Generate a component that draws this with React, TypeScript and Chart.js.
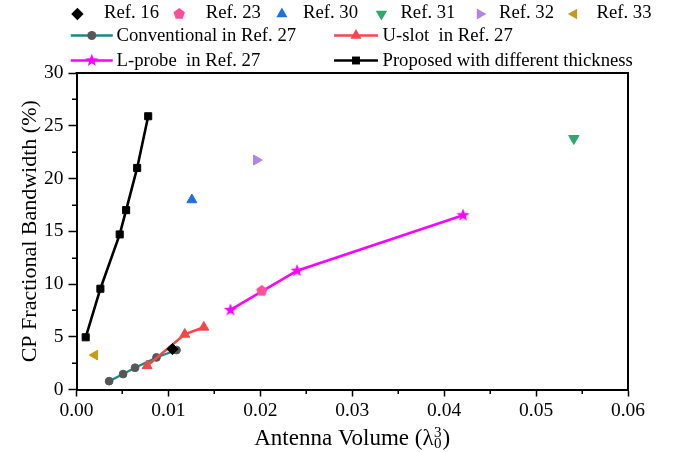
import React, { useEffect, useRef } from 'react';
import { Chart, registerables } from 'chart.js';

Chart.register(...registerables);

const FONT = '"Liberation Serif", "Times New Roman", serif';

// ---------- data ----------
const proposedX = [0.001, 0.0026, 0.0047, 0.0054, 0.0066, 0.0078];
const proposedY = [4.95, 9.55, 14.7, 17.0, 21.0, 25.9];

const conventionalX = [0.00355, 0.00507, 0.00637, 0.0087, 0.01088];
const conventionalY = [0.79, 1.46, 2.06, 3.04, 3.74];

const uslotX = [0.00768, 0.01178, 0.01385];
const uslotY = [2.25, 5.23, 5.9];

const lprobeX = [0.01675, 0.024, 0.04205];
const lprobeY = [7.54, 11.26, 16.52];

const refNames = ['Ref. 16', 'Ref. 23', 'Ref. 30', 'Ref. 31', 'Ref. 32', 'Ref. 33'];
const refX = [0.01044, 0.02016, 0.01255, 0.05411, 0.01958, 0.00199];
const refY = [3.83, 9.35, 17.98, 23.79, 21.75, 3.26];

const lineNames = [
  'Conventional in Ref. 27',
  'U-slot  in Ref. 27',
  'L-probe  in Ref. 27',
  'Proposed with different thickness',
];

const xTickValues = [0, 0.01, 0.02, 0.03, 0.04, 0.05, 0.06];
const xMinorTicks = [0.005, 0.015, 0.025, 0.035, 0.045, 0.055];
const yMinorTicks = [2.5, 7.5, 12.5, 17.5, 22.5, 27.5];

// ---------- styles ----------
type Mk = 'circle' | 'rect' | 'rectRot' | 'triUp' | 'triDown' | 'triRight' | 'triLeft' | 'pentagon' | 'star';

const refColors = ['#000000', '#ff4f9b', '#1f6fe6', '#2fa86c', '#b483e4', '#c99a18'];
const refMarkers: Mk[] = ['rectRot', 'pentagon', 'triUp', 'triDown', 'triRight', 'triLeft'];
const refRadius = [5.6, 5.4, 5.8, 6.0, 5.8, 5.6];

const TEAL = '#138b89';
const GRAY = '#575757';
const RED = '#f14848';
const MAGENTA = '#ff00ff';

function pathMarker(ctx: CanvasRenderingContext2D, m: Mk, x: number, y: number, r: number) {
  ctx.beginPath();
  const poly = (n: number, startDeg: number) => {
    for (let i = 0; i < n; i++) {
      const a = ((startDeg + (360 / n) * i) * Math.PI) / 180;
      const px = x + Math.sin(a) * r;
      const py = y - Math.cos(a) * r;
      if (i === 0) ctx.moveTo(px, py);
      else ctx.lineTo(px, py);
    }
    ctx.closePath();
  };
  switch (m) {
    case 'circle':
      ctx.arc(x, y, r, 0, Math.PI * 2);
      break;
    case 'rect': {
      const s = r * Math.SQRT1_2;
      ctx.rect(x - s, y - s, 2 * s, 2 * s);
      break;
    }
    case 'rectRot':
      poly(4, 0);
      break;
    case 'triUp':
      poly(3, 0);
      break;
    case 'triDown':
      poly(3, 180);
      break;
    case 'triRight':
      poly(3, 90);
      break;
    case 'triLeft':
      poly(3, 270);
      break;
    case 'pentagon':
      poly(5, 0);
      break;
    case 'star': {
      const inner = r * 0.42;
      for (let i = 0; i < 10; i++) {
        const rr = i % 2 === 0 ? r : inner;
        const a = (i * 36 * Math.PI) / 180;
        const px = x + Math.sin(a) * rr;
        const py = y - Math.cos(a) * rr;
        if (i === 0) ctx.moveTo(px, py);
        else ctx.lineTo(px, py);
      }
      ctx.closePath();
      break;
    }
  }
}

function markerImage(m: Mk, r: number, color: string) {
  const size = Math.ceil(r * 2 + 4);
  const c = document.createElement('canvas');
  c.width = size;
  c.height = size;
  const g = c.getContext('2d')!;
  pathMarker(g, m, size / 2, size / 2, r);
  g.fillStyle = color;
  g.fill();
  return c;
}

function builtin(m: Mk): { style: string; rot: number } {
  switch (m) {
    case 'triUp':
      return { style: 'triangle', rot: 0 };
    case 'triDown':
      return { style: 'triangle', rot: 180 };
    case 'triRight':
      return { style: 'triangle', rot: 90 };
    case 'triLeft':
      return { style: 'triangle', rot: 270 };
    default:
      return { style: m, rot: 0 };
  }
}

const pts = (xs: number[], ys: number[]) => xs.map((x, i) => ({ x, y: ys[i] }));

const legendPlugin = {
  id: 'customLegend',
  afterDraw(chart: any) {
    const ctx: CanvasRenderingContext2D = chart.ctx;
    ctx.save();
    ctx.fillStyle = '#000';
    ctx.font = `18.7px ${FONT}`;
    ctx.textBaseline = 'middle';
    ctx.textAlign = 'left';
    // row 1: single markers
    const mX = [77.4, 179.2, 281.9, 381.4, 480, 574];
    const tX = [104, 205.8, 303, 400.4, 499, 596.5];
    refNames.forEach((name, i) => {
      pathMarker(ctx, refMarkers[i], mX[i], 14, refRadius[i] + 0.6);
      ctx.fillStyle = refColors[i];
      ctx.fill();
      ctx.fillStyle = '#000';
      ctx.fillText(name, tX[i], 13.5);
    });
    // rows 2-3: line + marker
    const items = [
      { col: 0, row: 0, color: TEAL, mcolor: GRAY, mk: 'circle' as Mk, r: 4.5, lw: 2.4 },
      { col: 1, row: 0, color: RED, mcolor: RED, mk: 'triUp' as Mk, r: 6.4, lw: 2.6 },
      { col: 0, row: 1, color: MAGENTA, mcolor: MAGENTA, mk: 'star' as Mk, r: 6.8, lw: 2.6 },
      { col: 1, row: 1, color: '#000', mcolor: '#000', mk: 'rect' as Mk, r: 5.6, lw: 2.6 },
    ];
    const colX = [
      [70.8, 112.8, 116.5],
      [334, 378, 382.5],
    ];
    const rowY = [35.5, 60.5];
    items.forEach((it, i) => {
      const [x1, x2, tx] = colX[it.col];
      const y = rowY[it.row];
      ctx.beginPath();
      ctx.moveTo(x1, y);
      ctx.lineTo(x2, y);
      ctx.strokeStyle = it.color;
      ctx.lineWidth = it.lw;
      ctx.stroke();
      pathMarker(ctx, it.mk, (x1 + x2) / 2, y, it.r);
      ctx.fillStyle = it.mcolor;
      ctx.fill();
      ctx.fillStyle = '#000';
      ctx.fillText(lineNames[i], tx, y + 0.5);
    });
    ctx.restore();
  },
};

const framePlugin = {
  id: 'frameAndExtras',
  afterDraw(chart: any) {
    const ctx: CanvasRenderingContext2D = chart.ctx;
    const { left, right, top, bottom } = chart.chartArea;
    const xs = chart.scales.x;
    const ys = chart.scales.y;
    ctx.save();
    ctx.strokeStyle = '#000';
    ctx.lineWidth = 2;
    ctx.beginPath();
    ctx.moveTo(left - 1, top);
    ctx.lineTo(right, top);
    ctx.lineTo(right, bottom + 1);
    ctx.stroke();
    // minor ticks
    ctx.lineWidth = 1.5;
    ctx.beginPath();
    xMinorTicks.forEach((v) => {
      const px = Math.round(xs.getPixelForValue(v)) + 0.25;
      ctx.moveTo(px, bottom);
      ctx.lineTo(px, bottom + 4.5);
    });
    yMinorTicks.forEach((v) => {
      const py = Math.round(ys.getPixelForValue(v)) + 0.25;
      ctx.moveTo(left - 4.5, py);
      ctx.lineTo(left, py);
    });
    ctx.stroke();

    // x-axis title with stacked sub/superscript
    ctx.fillStyle = '#000';
    ctx.textBaseline = 'alphabetic';
    ctx.textAlign = 'left';
    const main = 'Antenna Volume (\u03bb';
    ctx.font = `23px ${FONT}`;
    const w1 = ctx.measureText(main).width;
    const w3 = ctx.measureText(')').width;
    ctx.font = `15px ${FONT}`;
    const ws = Math.max(ctx.measureText('0').width, ctx.measureText('3').width);
    const total = w1 + ws + 1.5 + w3;
    let x = (left + right) / 2 - total / 2;
    const base = bottom + 55.5;
    ctx.font = `23px ${FONT}`;
    ctx.fillText(main, x, base);
    x += w1 + 0.5;
    ctx.font = `15px ${FONT}`;
    ctx.fillText('3', x, base - 8.5);
    ctx.fillText('0', x, base + 3);
    x += ws + 1;
    ctx.font = `23px ${FONT}`;
    ctx.fillText(')', x, base);
    ctx.restore();
  },
};

export default function App() {
  const ref = useRef<HTMLCanvasElement | null>(null);

  useEffect(() => {
    if (!ref.current) return;
    const refDatasets = refNames.map((name, i) => {
      const m = refMarkers[i];
      const isImg = m === 'pentagon';
      const b = builtin(m);
      return {
        label: name,
        data: [{ x: refX[i], y: refY[i] }],
        showLine: false,
        pointStyle: isImg ? markerImage(m, refRadius[i] + 0.5, refColors[i]) : b.style,
        pointRotation: b.rot,
        pointRadius: refRadius[i],
        pointBackgroundColor: refColors[i],
        pointBorderColor: refColors[i],
        pointBorderWidth: 1,
      };
    });

    const lineDatasets = [
      {
        label: lineNames[3],
        data: pts(proposedX, proposedY),
        showLine: true,
        borderColor: '#000',
        borderWidth: 2.6,
        pointStyle: 'rect',
        pointRadius: 5,
        pointBackgroundColor: '#000',
        pointBorderColor: '#000',
        pointBorderWidth: 1,
      },
      {
        label: lineNames[1],
        data: pts(uslotX, uslotY),
        showLine: true,
        borderColor: RED,
        borderWidth: 2.6,
        pointStyle: 'triangle',
        pointRadius: 5.8,
        pointBackgroundColor: RED,
        pointBorderColor: RED,
        pointBorderWidth: 1,
      },
      {
        label: lineNames[0],
        data: pts(conventionalX, conventionalY),
        showLine: true,
        borderColor: TEAL,
        borderWidth: 2.2,
        pointStyle: 'circle',
        pointRadius: 3.9,
        pointBackgroundColor: GRAY,
        pointBorderColor: GRAY,
        pointBorderWidth: 1,
      },
      {
        label: lineNames[2],
        data: pts(lprobeX, lprobeY),
        showLine: true,
        borderColor: MAGENTA,
        borderWidth: 2.6,
        pointStyle: markerImage('star', 6.8, MAGENTA),
        pointRadius: 6,
        pointBackgroundColor: MAGENTA,
        pointBorderColor: MAGENTA,
        pointBorderWidth: 0,
      },
    ];

    const chart = new Chart(ref.current, {
      type: 'scatter',
      data: { datasets: [...refDatasets, ...lineDatasets] as any },
      options: {
        animation: false,
        responsive: false,
        devicePixelRatio: 1,
        events: [],
        layout: { padding: { left: 0, right: 65, top: 73, bottom: 0 } },
        plugins: {
          legend: { display: false },
          tooltip: { enabled: false },
        },
        scales: {
          x: {
            type: 'linear',
            position: 'bottom',
            min: xTickValues[0],
            max: xTickValues[xTickValues.length - 1],
            afterFit: (s: any) => {
              s.height = 62.5;
            },
            afterBuildTicks: (s: any) => {
              s.ticks = xTickValues.map((v) => ({ value: v }));
            },
            ticks: {
              callback: (v: any) => Number(v).toFixed(2),
              font: { family: FONT, size: 19.5 },
              color: '#000',
              padding: 3,
              maxRotation: 0,
              autoSkip: false,
            },
            grid: {
              drawOnChartArea: false,
              drawTicks: true,
              tickLength: 7,
              tickWidth: 1.5,
              tickColor: '#000',
            },
            border: { display: true, color: '#000', width: 2 },
            title: { display: false },
          },
          y: {
            type: 'linear',
            min: 0,
            max: 30,
            afterFit: (s: any) => {
              s.width = 76.5;
            },
            ticks: {
              stepSize: 5,
              font: { family: FONT, size: 19.5 },
              color: '#000',
              padding: 5,
            },
            grid: {
              drawOnChartArea: false,
              drawTicks: true,
              tickLength: 8,
              tickWidth: 1.5,
              tickColor: '#000',
            },
            border: { display: true, color: '#000', width: 2 },
            title: {
              display: true,
              text: 'CP Fractional Bandwidth (%)',
              font: { family: FONT, size: 22 },
              color: '#000',
              padding: { top: 17, bottom: 0 },
            },
          },
        },
      },
      plugins: [legendPlugin, framePlugin],
    });
    return () => chart.destroy();
  }, []);

  return (
    <div style={{ position: 'absolute', left: 0, top: 0, width: 693, height: 452, background: '#fff' }}>
      <canvas ref={ref} width={693} height={452} />
    </div>
  );
}
